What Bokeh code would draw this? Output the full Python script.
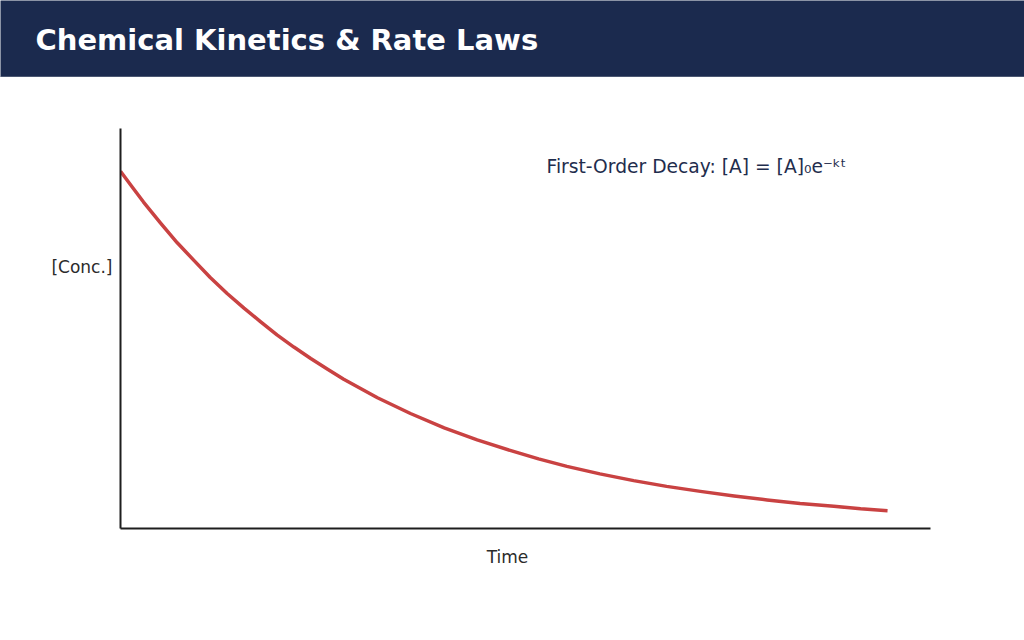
from bokeh.plotting import figure
from bokeh.layouts import column, row
from bokeh.models import Range1d, Label, FixedTicker, Span
from bokeh.embed import file_html
from bokeh.resources import INLINE

# first-order decay curve
time = [0.0, 0.15, 0.3, 0.52, 0.74, 0.96, 1.17, 1.39, 1.61, 1.82, 2.04,
        2.26, 2.48, 2.7, 2.91, 3.35, 3.78, 4.22, 4.65, 5.09, 5.45, 5.82,
        6.25, 6.69, 7.12, 7.56, 8.0, 8.43, 8.86, 9.3, 9.65, 10.0]
conc = [1.0, 0.957, 0.914, 0.856, 0.80, 0.750, 0.703, 0.658, 0.617, 0.580,
        0.542, 0.508, 0.476, 0.446, 0.418, 0.366, 0.322, 0.282, 0.248,
        0.218, 0.195, 0.174, 0.153, 0.134, 0.118, 0.104, 0.091, 0.080,
        0.070, 0.062, 0.055, 0.05]

title = "Chemical Kinetics & Rate Laws"
equation = "First-Order Decay: [A] = [A]\u2080e\u207b\u1d4f\u1d57"
x_label = "Time"
y_label = "[Conc.]"

FONT = "DejaVu Sans"
NAVY = "#1b2a4e"
LABEL_COLOR = "#2b2b2b"

X_RANGE = (0, 10.56)
Y_RANGE = (0, 1.12)


def blank(width, height, fill, x_range, y_range, **kw):
    # plain panel without axes, used for the texts outside the chart
    f = figure(width=width, height=height, title=None, output_backend="svg",
               toolbar_location=None, x_axis_type=None, y_axis_type=None,
               x_range=Range1d(*x_range), y_range=Range1d(*y_range),
               min_border=0, **kw)
    f.outline_line_color = None
    f.grid.visible = False
    f.background_fill_color = fill
    f.border_fill_color = fill
    return f


# header band
header = blank(1024, 77, NAVY, (0, 1024), (0, 77))
header.add_layout(Span(location=0.5, dimension="width",
                       line_color="#7d8597", line_width=1))
header.add_layout(Label(x=35, y=37.5, text=title, text_font=FONT,
                        text_font_style="bold", text_font_size="29px",
                        text_color="white", text_baseline="alphabetic"))

# left strip holding the y label, frame lined up with the chart's
side = blank(114, 461, "white", (0, 114), Y_RANGE,
             min_border_top=51, min_border_bottom=10)
side.add_layout(Label(x=112, y=0.731, text=y_label, text_font=FONT,
                      text_font_size="17px", text_color=LABEL_COLOR,
                      text_align="right", text_baseline="alphabetic"))

# the chart itself
p = figure(width=910, height=461, title=None, output_backend="svg",
           toolbar_location=None,
           x_range=Range1d(*X_RANGE), y_range=Range1d(*Y_RANGE),
           min_border_left=6, min_border_right=94,
           min_border_top=51, min_border_bottom=10)
p.outline_line_color = None
p.grid.visible = False
p.background_fill_color = "white"
p.border_fill_color = "white"

for ax in (p.xaxis, p.yaxis):
    ax.ticker = FixedTicker(ticks=[])
    ax.axis_line_color = "#1e1e1e"
    ax.axis_line_width = 2
    ax.major_tick_in = 0
    ax.major_tick_out = 0
    ax.minor_tick_in = 0
    ax.minor_tick_out = 0
    ax.major_label_standoff = 0
    ax.major_label_text_font_size = "0px"

p.line(time, conc, line_color="#c94242", line_width=3.5, line_join="round")

p.add_layout(Label(x=5.554, y=1.014, text=equation, text_font=FONT,
                   text_font_size="18.7px", text_color="#1f2d4d",
                   text_baseline="alphabetic"))

# footer holding the x label
footer = blank(1024, 102, "white", (0, 1024), (0, 102))
footer.add_layout(Label(x=507, y=83.5, text=x_label, text_font=FONT,
                        text_font_size="17px", text_color=LABEL_COLOR,
                        text_align="center", text_baseline="alphabetic"))

layout = column(header, row(side, p), footer)

open("out.html", "w").write(file_html(layout, INLINE))
